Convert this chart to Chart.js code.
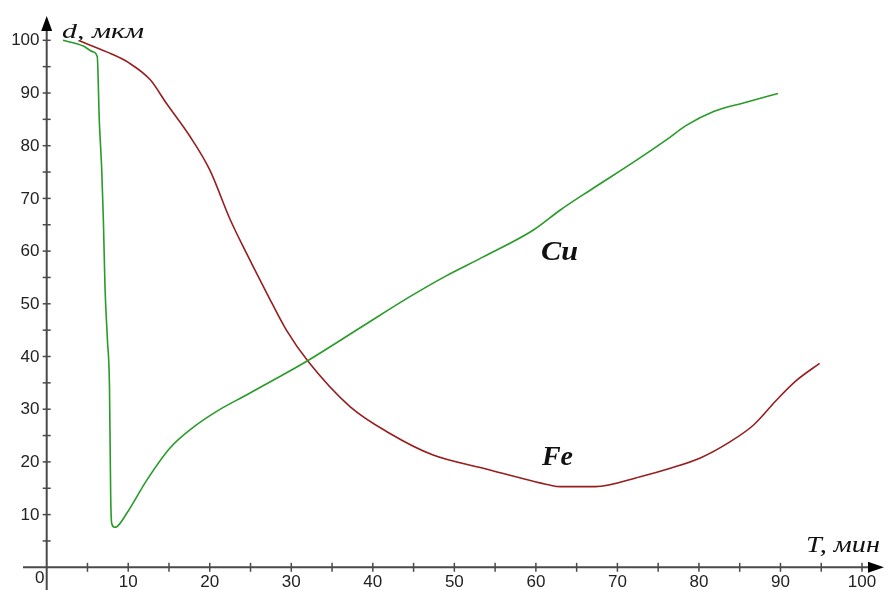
<!DOCTYPE html>
<html>
<head>
<meta charset="utf-8">
<script src="https://cdn.jsdelivr.net/npm/chart.js@4/dist/chart.umd.min.js"></script>
<style>
    body { margin: 0; background: #fff; }
    #wrap { width: 885px; height: 590px; }
</style>
</head>
<body>
<div id="wrap"><canvas id="myChart" width="885" height="590"></canvas></div>
<script>
// Cu curve (T, мин -> d, мкм)
let cuT = [2, 4.5, 5.7, 6.2, 6.45, 6.75, 6.95, 7.15, 7.45, 7.7, 7.85, 7.97, 8.3, 8.6, 9.8, 12.3, 15.1, 18.0, 20.85, 24.5, 28.6, 32.1, 38.5, 44.6, 49, 53.55, 59.7, 63, 66.7, 72.4, 76, 78.5, 81.8, 85.9, 89.7];
let cuD = [100, 98.9, 97.8, 96.9, 84.9, 75.4, 66, 53.2, 43.1, 34.3, 13.4, 8.35, 7.6, 7.7, 10.2, 16.6, 22.6, 26.6, 29.6, 32.7, 36.2, 39.3, 45.5, 51.4, 55.3, 58.9, 64, 67.8, 71.6, 77.3, 81.1, 83.9, 86.5, 88.3, 89.9];

// Fe curve
let feT = [4, 7.35, 10, 12.7, 14.7, 17.6, 20, 22.5, 24.5, 27, 29.4, 32.1, 37.2, 42.1, 47.4, 53.55, 61.7, 63, 67.25, 72.8, 76.5, 80.1, 83.8, 86.7, 89.5, 92, 94.8];
let feD = [99.9, 97.8, 95.8, 92.5, 88.0, 81.7, 75.4, 66, 59.6, 52, 45, 39, 30.5, 25.4, 21.3, 18.8, 15.6, 15.3, 15.3, 17.2, 18.8, 20.7, 23.8, 27.0, 31.7, 35.5, 38.7];

let xTicks = [10, 20, 30, 40, 50, 60, 70, 80, 90, 100];
let yTicks = [10, 20, 30, 40, 50, 60, 70, 80, 90, 100];
let minorStep = 5;

function toPoints(xs, ys) {
    return xs.map((x, i) => ({ x: x, y: ys[i] }));
}

const axisColor = '#4a4a4a';

// text squeezed/stretched horizontally to a given width
function fitText(ctx, text, x, y, width) {
    let w = ctx.measureText(text).width;
    ctx.save();
    ctx.translate(x, y);
    ctx.scale(width / w, 1);
    ctx.fillText(text, 0, 0);
    ctx.restore();
}

// draws the arrow axes, ticks, tick labels and captions
const axesPlugin = {
    id: 'axesPlugin',
    beforeDatasetsDraw(chart) {
        let ctx = chart.ctx;
        let xs = chart.scales.x, ys = chart.scales.y;
        let x0 = xs.getPixelForValue(0), y0 = ys.getPixelForValue(0);
        ctx.save();
        ctx.strokeStyle = axisColor;
        ctx.fillStyle = axisColor;
        ctx.lineWidth = 2;

        // x axis
        ctx.beginPath();
        ctx.moveTo(23, y0);
        ctx.lineTo(870, y0);
        ctx.stroke();
        ctx.fillStyle = '#000';
        ctx.beginPath();
        ctx.moveTo(884, y0);
        ctx.lineTo(868, y0 - 5.5);
        ctx.lineTo(868, y0 + 5.5);
        ctx.closePath();
        ctx.fill();

        // y axis
        ctx.beginPath();
        ctx.moveTo(x0, 590);
        ctx.lineTo(x0, 28);
        ctx.stroke();
        ctx.beginPath();
        ctx.moveTo(x0, 16);
        ctx.lineTo(x0 - 5.5, 31);
        ctx.lineTo(x0 + 5.5, 31);
        ctx.closePath();
        ctx.fill();

        // tick marks
        ctx.lineWidth = 1.5;
        for (let v = minorStep; v <= 100; v += minorStep) {
            let px = xs.getPixelForValue(v);
            ctx.beginPath();
            ctx.moveTo(px, y0 - 4.5);
            ctx.lineTo(px, y0 + 4.5);
            ctx.stroke();
            let py = ys.getPixelForValue(v);
            ctx.beginPath();
            ctx.moveTo(x0 - 4, py);
            ctx.lineTo(x0 + 4, py);
            ctx.stroke();
        }

        // tick labels
        ctx.fillStyle = '#222';
        ctx.font = '17px "Liberation Sans", Arial, sans-serif';
        ctx.textAlign = 'center';
        ctx.textBaseline = 'middle';
        xTicks.forEach(v => {
            ctx.fillText(String(v), xs.getPixelForValue(v), 582);
        });
        ctx.textAlign = 'right';
        yTicks.forEach(v => {
            ctx.fillText(String(v), 39.5, ys.getPixelForValue(v) + 0.5);
        });
        ctx.fillText('0', 44.5, 578);

        // axis captions
        ctx.fillStyle = '#111';
        ctx.textAlign = 'left';
        ctx.textBaseline = 'alphabetic';
        ctx.font = 'italic 21px "Liberation Serif", "DejaVu Serif", serif';
        fitText(ctx, 'd, мкм', 62, 38, 82);
        ctx.font = 'italic 24px "Liberation Serif", "DejaVu Serif", serif';
        fitText(ctx, 'T, мин', 806, 552, 74);

        // curve names
        ctx.font = 'bold italic 28px "Liberation Serif", "DejaVu Serif", serif';
        fitText(ctx, 'Cu', 541, 260, 37);
        fitText(ctx, 'Fe', 542, 465, 31);
        ctx.restore();
    }
};

let config = {
    type: 'scatter',
    data: {
        datasets: [{
            label: 'Cu',
            data: toPoints(cuT, cuD),
            showLine: true,
            borderColor: 'rgb(40,155,40)',
            borderWidth: 1.6,
            pointRadius: 0,
            cubicInterpolationMode: 'monotone'
        }, {
            label: 'Fe',
            data: toPoints(feT, feD),
            showLine: true,
            borderColor: 'rgb(150,30,30)',
            borderWidth: 1.6,
            pointRadius: 0,
            cubicInterpolationMode: 'monotone'
        }]
    },
    options: {
        responsive: false,
        animation: false,
        clip: false,
        layout: {
            padding: { left: 46.7, right: 23, top: 40.3, bottom: 22.7 }
        },
        plugins: {
            legend: { display: false },
            tooltip: { enabled: false }
        },
        scales: {
            x: { type: 'linear', min: 0, max: 100, display: false },
            y: { type: 'linear', min: 0, max: 100, display: false }
        }
    },
    plugins: [axesPlugin]
};

let myChart = new Chart(document.getElementById('myChart'), config);
</script>
</body>
</html>
